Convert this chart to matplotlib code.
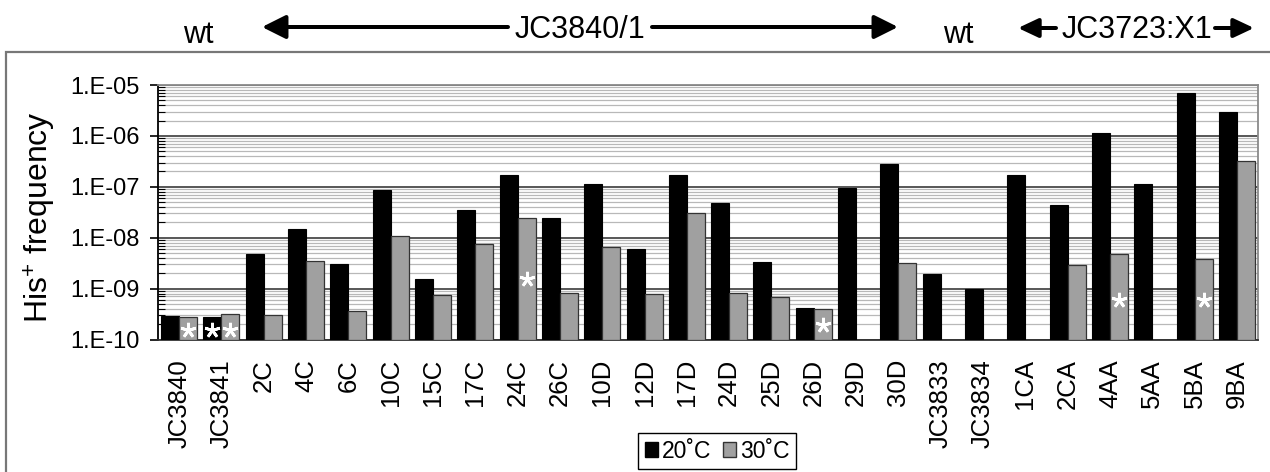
import numpy as np
import matplotlib
matplotlib.use("Agg")
import matplotlib.pyplot as plt
from matplotlib.patches import Patch, Rectangle, FancyArrowPatch
from matplotlib.ticker import FixedLocator, NullFormatter

plt.rcParams['font.family'] = ['Liberation Sans', 'DejaVu Sans']
plt.rcParams['mathtext.default'] = 'regular'

# ---------------- data ----------------
strains = ["JC3840", "JC3841", "2C", "4C", "6C", "10C", "15C", "17C", "24C", "26C",
           "10D", "12D", "17D", "24D", "25D", "26D", "29D", "30D", "JC3833", "JC3834",
           "1CA", "2CA", "4AA", "5AA", "5BA", "9BA"]
freq_20C = [2.9e-10, 2.8e-10, 4.7e-9, 1.5e-8, 3.0e-9, 8.6e-8, 1.55e-9, 3.5e-8, 1.7e-7, 2.4e-8,
            1.12e-7, 6.0e-9, 1.7e-7, 4.9e-8, 3.4e-9, 4.2e-10, 9.5e-8, 2.8e-7, 1.9e-9, 1.0e-9,
            1.74e-7, 4.4e-8, 1.12e-6, 1.12e-7, 6.9e-6, 2.9e-6]
freq_30C = [2.8e-10, 3.2e-10, 3.0e-10, 3.5e-9, 3.7e-10, 1.07e-8, 7.4e-10, 7.6e-9, 2.4e-8, 8.3e-10,
            6.6e-9, 7.9e-10, 3.0e-8, 8.3e-10, 6.8e-10, 3.9e-10, np.nan, 3.2e-9, np.nan, np.nan,
            np.nan, 2.95e-9, 4.8e-9, np.nan, 3.9e-9, 3.2e-7]
series_labels = ["20\u02daC", "30\u02daC"]
ytick_values = [1e-10, 1e-9, 1e-8, 1e-7, 1e-6, 1e-5]
ytick_labels = ["1.E-10", "1.E-09", "1.E-08", "1.E-07", "1.E-06", "1.E-05"]
# asterisks: (strain index, series 0=20C / 1=30C, height)
asterisks = [(0, 1, 1.55e-10), (1, 0, 1.55e-10), (1, 1, 1.55e-10), (8, 1, 1.55e-9),
             (15, 1, 1.9e-10), (22, 1, 6.0e-10), (24, 1, 6.0e-10)]

W, H = 1270, 472
fig = plt.figure(figsize=(W / 100, H / 100), dpi=100)

def fx(px):
    return px / W

def fy(py):
    return 1 - py / H

ax = fig.add_axes([fx(158), fy(339.5), fx(1258) - fx(158), fy(85) - fy(339.5)])
ax.set_yscale('log')
ax.set_ylim(1e-10, 1e-5)
n = len(strains)
ax.set_xlim(-0.5, n - 0.5)

x = np.arange(n)
bw = 0.425
base = 1e-10
b20 = np.array(freq_20C)
b30 = np.array(freq_30C)
ax.bar(x - bw / 2, b20 - base, bottom=base, width=bw, color='black',
       edgecolor='black', linewidth=0.8, zorder=3)
ax.bar(x + bw / 2, b30 - base, bottom=base, width=bw, color='#a0a0a0',
       edgecolor='#333333', linewidth=0.9, zorder=3)

for i, s, h in asterisks:
    xo = x[i] + (bw / 2 if s == 1 else -bw / 2)
    ax.plot([xo], [h], linestyle='none', marker=(5, 2, 0), markersize=11,
            markeredgewidth=2.0, color='white', zorder=5)

# grid
ax.yaxis.set_major_locator(FixedLocator(ytick_values))
ax.set_yticklabels(ytick_labels)
minors = [m * 10.0 ** e for e in range(-10, -5) for m in range(2, 10)]
ax.yaxis.set_minor_locator(FixedLocator(minors))
ax.yaxis.set_minor_formatter(NullFormatter())
ax.grid(True, which='major', axis='y', color='#4a4a4a', linewidth=1.3, zorder=1)
ax.grid(True, which='minor', axis='y', color='#b8b8b8', linewidth=0.9, zorder=1)
ax.set_axisbelow(True)

ax.tick_params(axis='y', which='major', direction='out', length=6, width=1.2,
               labelsize=17, pad=7)
ax.tick_params(axis='y', which='minor', direction='in', length=5, width=0.8)
ax.set_xticks(x)
ax.set_xticklabels(strains, rotation=90, fontsize=18.5, va='top', ha='center')
ax.tick_params(axis='x', length=0, pad=14)

for side in ['top', 'right']:
    ax.spines[side].set_color('#8a8a8a')
    ax.spines[side].set_linewidth(1.3)
ax.spines['left'].set_color('black')
ax.spines['left'].set_linewidth(1.3)
ax.spines['bottom'].set_color('#333333')
ax.spines['bottom'].set_linewidth(1.3)

fig.text(fx(40), fy(217), "His$^{+}$ frequency", rotation=90, fontsize=23,
         ha='center', va='center')

# outer frame
fig.patches.append(Rectangle((fx(6), -0.2), 1.2, fy(52) + 0.2, transform=fig.transFigure,
                             fill=False, edgecolor='#777777', linewidth=1.6))

# legend
handles = [Patch(facecolor='black', edgecolor='black'),
           Patch(facecolor='#a0a0a0', edgecolor='#333333')]
leg = fig.legend(handles, series_labels, loc='center',
                 bbox_to_anchor=(fx(717), fy(451)), ncol=2, fontsize=16.5,
                 frameon=True, fancybox=False, framealpha=1, edgecolor='black',
                 handlelength=0.6, handleheight=0.6, handletextpad=0.15,
                 columnspacing=0.5, borderpad=0.3, borderaxespad=0)
leg.get_frame().set_linewidth(1.0)

# top annotations
fs_top = 22
fig.text(fx(198), fy(43), "wt", fontsize=fs_top, ha='center', va='baseline')
fig.text(fx(580), fy(38), "JC3840/1", fontsize=fs_top, ha='center', va='baseline')
fig.text(fx(958), fy(43), "wt", fontsize=fs_top, ha='center', va='baseline')
fig.text(fx(1137), fy(38), "JC3723:X1", fontsize=fs_top, ha='center', va='baseline')

def arrow(x0, x1, y, lw_px=4, hw_px=20, hl_px=20):
    a = FancyArrowPatch((fx(x0), fy(y)), (fx(x1), fy(y)), transform=fig.transFigure,
                        arrowstyle=f"-|>,head_width={hw_px*0.72/2:.2f},head_length={hl_px*0.72:.2f}",
                        mutation_scale=1, color='black', linewidth=lw_px * 0.72,
                        shrinkA=0, shrinkB=0)
    fig.patches.append(a)

arrow(508, 262, 27)
arrow(652, 898, 27)
arrow(1056, 1018, 28, hw_px=16, hl_px=17)
arrow(1215, 1254, 28, hw_px=16, hl_px=17)

fig.savefig("out.png", dpi=100)
